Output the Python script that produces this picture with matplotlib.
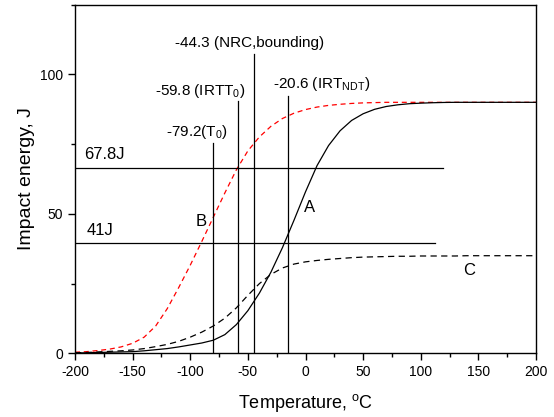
import matplotlib
matplotlib.use("Agg")
import matplotlib.pyplot as plt
from matplotlib.ticker import MultipleLocator

plt.rcParams['font.family'] = ['Liberation Sans', 'DejaVu Sans']
plt.rcParams['mathtext.fontset'] = 'custom'
plt.rcParams['mathtext.rm'] = 'Liberation Sans'
plt.rcParams['mathtext.it'] = 'Liberation Sans:italic'
plt.rcParams['axes.unicode_minus'] = False

# Temperature grid (°C)
temps = [-200, -190, -180, -170, -160, -150, -140, -130, -120, -110, -100,
         -90, -80, -70, -60, -50, -40, -30, -20, -10, 0,
         10, 20, 30, 40, 50, 60, 70, 80, 90, 100,
         110, 120, 130, 140, 150, 160, 170, 180, 190, 200]

# Curve B (red dashed)
curve_b = [0.4, 0.6, 1.0, 1.5, 2.3, 3.6, 5.8, 9.8, 16.0, 23.6, 31.6,
           40.1, 48.8, 57.5, 65.8, 72.6, 77.6, 81.4, 84.2, 86.1, 87.4,
           88.3, 88.9, 89.3, 89.6, 89.8, 89.9, 90.0, 90.0, 90.0, 90.0,
           90.0, 90.0, 90.0, 90.0, 90.0, 90.0, 90.0, 90.0, 90.0, 90.0]

# Curve A (black solid)
curve_a = [0.1, 0.2, 0.3, 0.4, 0.5, 0.6, 0.9, 1.3, 1.7, 2.3, 3.0,
           3.7, 4.7, 6.7, 10.3, 15.3, 21.6, 29.1, 37.9, 47.7, 57.9,
           67.3, 74.5, 79.8, 83.5, 85.9, 87.5, 88.5, 89.1, 89.5, 89.7,
           89.85, 89.95, 90.0, 90.0, 90.0, 90.0, 90.0, 90.0, 90.0, 90.0]

# Curve C (black dashed)
curve_c = [0.2, 0.3, 0.5, 0.7, 0.9, 1.2, 1.7, 2.4, 3.2, 4.3, 5.8,
           7.6, 9.8, 12.6, 16.3, 20.8, 25.0, 28.3, 30.6, 32.0, 32.8,
           33.3, 33.7, 34.0, 34.3, 34.5, 34.6, 34.7, 34.8, 34.8, 34.9,
           34.9, 34.9, 34.9, 35.0, 35.0, 35.0, 35.0, 35.0, 35.0, 35.0]

# Vertical reference lines: position, top
vline_x = [-80.5, -58.5, -45.0, -15.5]
vline_top = [75.5, 90.3, 107.5, 92.4]

# Horizontal reference lines: level, right end
hline_y = [66.3, 39.6]
hline_end = [119, 112]

fig = plt.figure(figsize=(5.54, 4.17), dpi=100)
ax = fig.add_axes([0.1354, 0.1527, 0.8321, 0.836])

ax.plot(temps, curve_b, color='red', lw=0.9, ls=(0, (4, 3)))
ax.plot(temps, curve_a, color='black', lw=0.9)
ax.plot(temps, curve_c, color='black', lw=0.9, ls=(0, (5, 3.5)))

for x, top in zip(vline_x, vline_top):
    ax.plot([x, x], [0, top], color='black', lw=0.9)
for y, end in zip(hline_y, hline_end):
    ax.plot([-200, end], [y, y], color='black', lw=0.9)

fs = 11
ax.text(-113.1, 109.8, '-44.3 (NRC,bounding)', fontsize=fs, va='baseline')
ax.text(-130.5, 92.6, r'-59.8 (IRTT$_0$)', fontsize=fs, va='baseline')
ax.text(-28.4, 95.2, r'-20.6 (IRT$_{\mathrm{NDT}}$)', fontsize=fs, va='baseline')
ax.text(-121.2, 78.0, r'-79.2(T$_0$)', fontsize=fs, va='baseline')
ax.text(-192.3, 69.6, '67.8J', fontsize=12, va='baseline')
ax.text(-189.7, 42.5, '41J', fontsize=12, va='baseline')
ax.text(-95.1, 45.5, 'B', fontsize=12, va='baseline')
ax.text(-0.9, 50.8, 'A', fontsize=12, va='baseline')
ax.text(137, 28.0, 'C', fontsize=12, va='baseline')

ax.set_xlim(-200, 200)
ax.set_ylim(0, 125)
ax.xaxis.set_major_locator(MultipleLocator(50))
ax.xaxis.set_minor_locator(MultipleLocator(25))
ax.yaxis.set_major_locator(MultipleLocator(50))
ax.yaxis.set_minor_locator(MultipleLocator(25))
ax.tick_params(which='both', direction='out', top=False, right=False,
               labelsize=10, width=1.0)
ax.tick_params(which='major', length=5)
ax.tick_params(which='minor', length=3)
for s in ax.spines.values():
    s.set_linewidth(1.0)

ax.set_xlabel(r'Temperature, $^{\mathrm{o}}$C', fontsize=13, labelpad=9)
ax.set_ylabel('Impact energy, J', fontsize=14, labelpad=4)

fig.savefig('out.png', dpi=100)
